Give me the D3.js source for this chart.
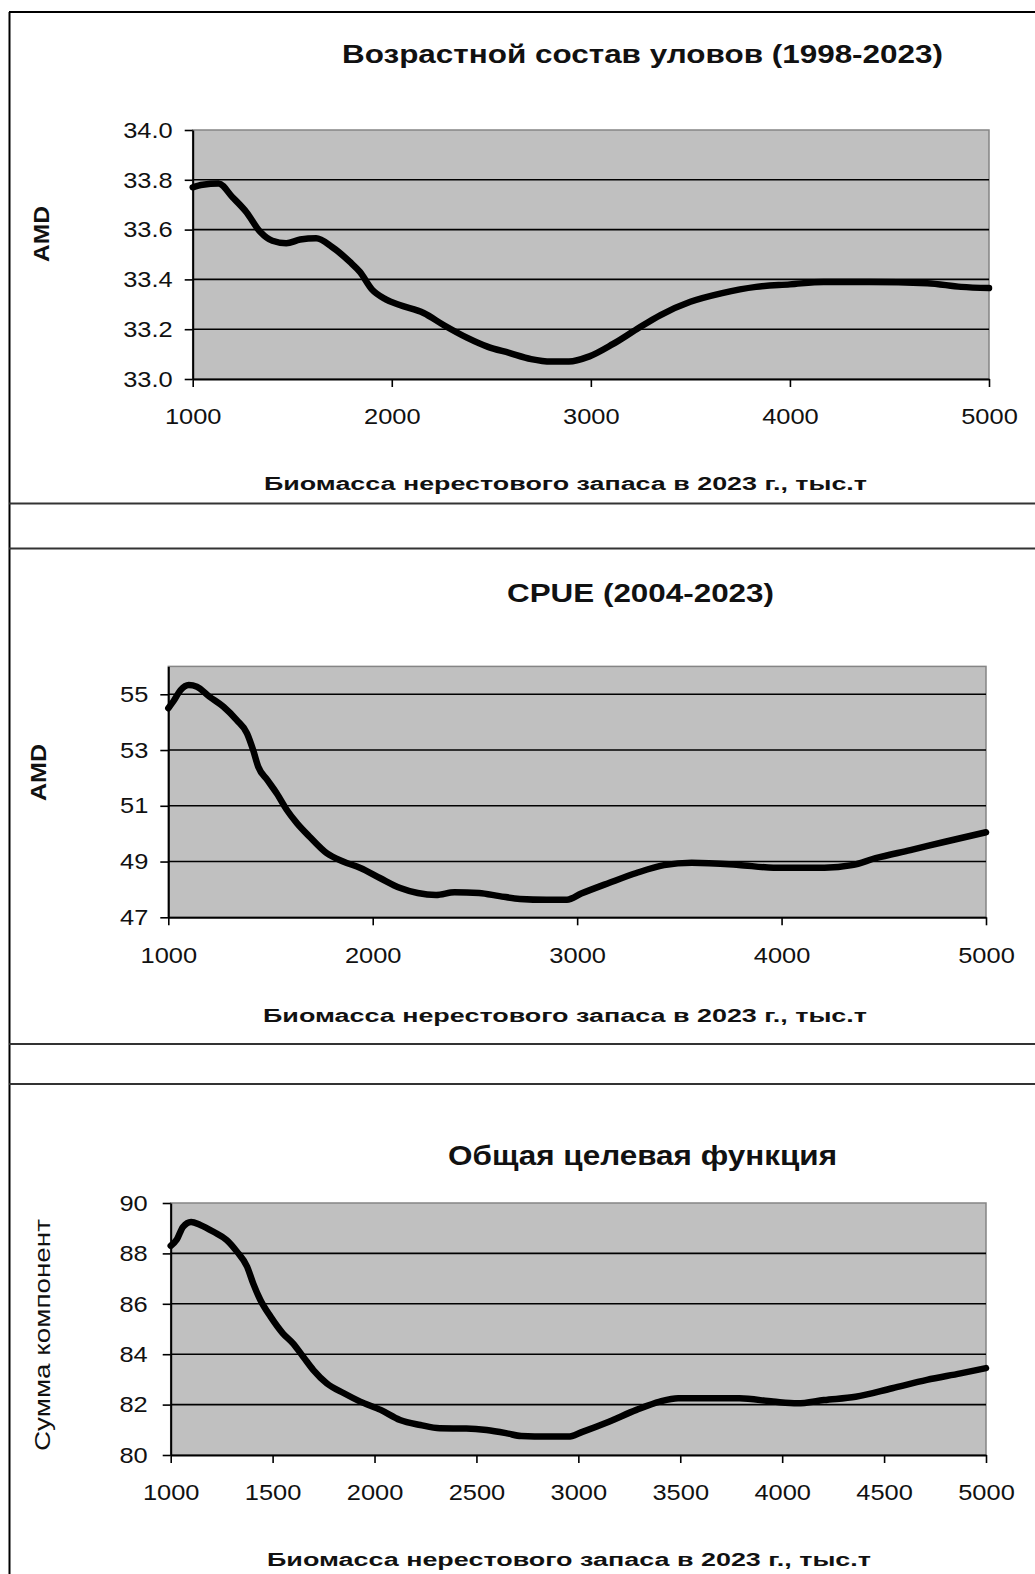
<!DOCTYPE html>
<html>
<head>
<meta charset="utf-8">
<script src="https://cdn.jsdelivr.net/npm/d3@7"></script>
<style>
  html, body { margin: 0; padding: 0; background: #fff; }
  svg { display: block; }
  text { font-family: "Liberation Sans", Arial, sans-serif; fill: #111; }
</style>
</head>
<body>
<svg id="chart" width="1035" height="1574"></svg>
<script>
// Spawning-stock biomass (thousand t) and response of each component
const biomassAge = [1000, 1050, 1130, 1200, 1270, 1340, 1400, 1470, 1540, 1620, 1700, 1790, 1840, 1900, 1970, 2040, 2160, 2260, 2380, 2480, 2590, 2700, 2800, 2890, 2990, 3110, 3230, 3350, 3500, 3660, 3830, 4000, 4170, 4400, 4690, 4860, 5000];
const amdAge = [33.77, 33.78, 33.785, 33.73, 33.67, 33.59, 33.555, 33.545, 33.56, 33.565, 33.53, 33.47, 33.43, 33.36, 33.32, 33.297, 33.265, 33.217, 33.165, 33.13, 33.105, 33.08, 33.07, 33.07, 33.09, 33.14, 33.2, 33.257, 33.31, 33.345, 33.37, 33.38, 33.39, 33.39, 33.385, 33.37, 33.365];

const biomassCpue = [1000, 1025, 1060, 1100, 1140, 1200, 1270, 1335, 1385, 1415, 1440, 1485, 1530, 1580, 1630, 1690, 1775, 1855, 1940, 2035, 2135, 2220, 2310, 2400, 2520, 2620, 2720, 2850, 2950, 3020, 3155, 3290, 3425, 3560, 3790, 3960, 4210, 4345, 4460, 4630, 4800, 5000];
const amdCpue = [54.5, 54.75, 55.15, 55.33, 55.27, 54.92, 54.55, 54.07, 53.6, 53.0, 52.4, 51.92, 51.45, 50.85, 50.37, 49.9, 49.3, 49.0, 48.77, 48.41, 48.05, 47.87, 47.8, 47.9, 47.87, 47.76, 47.66, 47.63, 47.63, 47.85, 48.23, 48.59, 48.87, 48.96, 48.88, 48.78, 48.78, 48.87, 49.12, 49.41, 49.71, 50.05];

const biomassTotal = [1000, 1030, 1060, 1100, 1145, 1210, 1275, 1325, 1375, 1405, 1440, 1490, 1550, 1600, 1650, 1700, 1765, 1850, 1930, 2030, 2125, 2225, 2320, 2450, 2550, 2650, 2720, 2850, 2950, 3020, 3150, 3285, 3400, 3490, 3790, 3955, 4075, 4205, 4360, 4540, 4710, 4875, 5000];
const sumTotal = [88.3, 88.55, 89.05, 89.25, 89.13, 88.86, 88.53, 88.07, 87.47, 86.8, 86.15, 85.49, 84.83, 84.43, 83.9, 83.37, 82.85, 82.45, 82.12, 81.79, 81.39, 81.19, 81.06, 81.05, 80.99, 80.86, 80.75, 80.73, 80.73, 80.92, 81.32, 81.79, 82.12, 82.25, 82.25, 82.12, 82.05, 82.18, 82.31, 82.65, 82.98, 83.24, 83.45];

// Axis ticks
const xTicksCoarse = [1000, 2000, 3000, 4000, 5000];
const xTicksFine = [1000, 1500, 2000, 2500, 3000, 3500, 4000, 4500, 5000];
const yTicksAge = [33.0, 33.2, 33.4, 33.6, 33.8, 34.0];
const yTicksCpue = [47, 49, 51, 53, 55];
const yTicksTotal = [80, 82, 84, 86, 88, 90];

// Texts
const titleAge = "Возрастной состав уловов (1998-2023)";
const titleCpue = "CPUE (2004-2023)";
const titleTotal = "Общая целевая функция";
const xTitle = "Биомасса нерестового запаса в  2023 г., тыс.т";
const yTitleAmd = "AMD";
const yTitleSum = "Сумма компонент";

const svg = d3.select("#chart");

// Outer frame (left and top edges) and panel separators
svg.append("line").attr("x1", 9.5).attr("x2", 9.5).attr("y1", 12).attr("y2", 1574)
  .attr("stroke", "#000").attr("stroke-width", 2);
svg.append("line").attr("x1", 9).attr("x2", 1035).attr("y1", 12).attr("y2", 12)
  .attr("stroke", "#000").attr("stroke-width", 2);
[503.5, 548.5, 1044, 1084].forEach(yy => {
  svg.append("line").attr("x1", 9).attr("x2", 1035).attr("y1", yy).attr("y2", yy)
    .attr("stroke", "#333").attr("stroke-width", 2);
});

function stretchedText(g, str, opts) {
  const t = g.append("text")
    .attr("font-size", opts.size)
    .attr("font-weight", opts.weight || "normal")
    .attr("textLength", opts.len)
    .attr("lengthAdjust", "spacingAndGlyphs")
    .text(str);
  if (opts.rotate) {
    t.attr("transform", `translate(${opts.x},${opts.y}) rotate(-90)`);
  } else {
    t.attr("x", opts.x).attr("y", opts.y);
  }
  return t;
}

// widen tick labels slightly, keeping their anchor point
function widenLabels(sel, factor) {
  sel.each(function () {
    const w = this.getComputedTextLength();
    d3.select(this).attr("textLength", w * factor).attr("lengthAdjust", "spacingAndGlyphs");
  });
}

function drawPanel(cfg) {
  const g = svg.append("g");
  const x = d3.scaleLinear().domain([1000, 5000]).range([cfg.left, cfg.right]);
  const y = d3.scaleLinear().domain(cfg.yDomain).range([cfg.bottom, cfg.top]);

  // plot area
  g.append("rect")
    .attr("x", cfg.left).attr("y", cfg.top)
    .attr("width", cfg.right - cfg.left).attr("height", cfg.bottom - cfg.top)
    .attr("fill", "#c0c0c0").attr("stroke", "#858585").attr("stroke-width", 1.5);

  // horizontal gridlines
  g.selectAll("line.grid")
    .data(cfg.yTicks.filter(v => v > cfg.yDomain[0] && v < cfg.yDomain[1]))
    .join("line")
    .attr("class", "grid")
    .attr("x1", cfg.left).attr("x2", cfg.right)
    .attr("y1", d => y(d)).attr("y2", d => y(d))
    .attr("stroke", "#000").attr("stroke-width", 1.6);

  // axes
  const yAxis = d3.axisLeft(y).tickValues(cfg.yTicks).tickSize(8).tickSizeOuter(0)
    .tickPadding(cfg.yPad).tickFormat(cfg.yFormat);
  const xAxis = d3.axisBottom(x).tickValues(cfg.xTicks).tickSize(8).tickSizeOuter(0)
    .tickPadding(cfg.xPad).tickFormat(d3.format("d"));

  const ga = g.append("g").attr("transform", `translate(${cfg.left},0)`).call(yAxis);
  const gb = g.append("g").attr("transform", `translate(0,${cfg.bottom})`).call(xAxis);
  [ga, gb].forEach(a => {
    a.select(".domain").attr("stroke", "#000").attr("stroke-width", 2);
    a.selectAll(".tick line").attr("stroke", "#000").attr("stroke-width", 1.6);
    a.selectAll(".tick text").attr("font-size", 22.5)
      .attr("font-family", "'Liberation Sans', Arial, sans-serif").attr("fill", "#111");
    widenLabels(a.selectAll(".tick text"), 1.13);
  });

  // response curve
  const line = d3.line()
    .x(d => x(d[0])).y(d => y(d[1]))
    .curve(d3.curveMonotoneX);
  g.append("path")
    .datum(cfg.xs.map((v, i) => [v, cfg.ys[i]]))
    .attr("d", line)
    .attr("fill", "none").attr("stroke", "#000")
    .attr("stroke-width", 6.5).attr("stroke-linejoin", "round").attr("stroke-linecap", "round");

  // titles
  stretchedText(g, cfg.title, cfg.titleOpts);
  stretchedText(g, xTitle, cfg.xTitleOpts);
  stretchedText(g, cfg.yTitle, cfg.yTitleOpts);
}

drawPanel({
  left: 192.7, right: 989, top: 130, bottom: 379,
  yDomain: [33.0, 34.0], yTicks: yTicksAge, yFormat: d3.format(".1f"), yPad: 12,
  xTicks: xTicksCoarse, xPad: 21,
  xs: biomassAge, ys: amdAge,
  title: titleAge,
  titleOpts: { x: 342, y: 63, size: 26, weight: "bold", len: 601 },
  xTitleOpts: { x: 264, y: 490, size: 18, weight: "bold", len: 603 },
  yTitle: yTitleAmd,
  yTitleOpts: { x: 49, y: 262, size: 22, weight: "bold", len: 56, rotate: true }
});

drawPanel({
  left: 168.3, right: 986, top: 666.4, bottom: 917.3,
  yDomain: [47, 56], yTicks: yTicksCpue, yFormat: d3.format("d"), yPad: 12,
  xTicks: xTicksCoarse, xPad: 22,
  xs: biomassCpue, ys: amdCpue,
  title: titleCpue,
  titleOpts: { x: 507, y: 602, size: 26, weight: "bold", len: 267 },
  xTitleOpts: { x: 263, y: 1022, size: 18, weight: "bold", len: 604 },
  yTitle: yTitleAmd,
  yTitleOpts: { x: 46, y: 801, size: 22, weight: "bold", len: 57, rotate: true }
});

drawPanel({
  left: 170.7, right: 986, top: 1203, bottom: 1455,
  yDomain: [80, 90], yTicks: yTicksTotal, yFormat: d3.format("d"), yPad: 15,
  xTicks: xTicksFine, xPad: 21,
  xs: biomassTotal, ys: sumTotal,
  title: titleTotal,
  titleOpts: { x: 448, y: 1165, size: 27, weight: "bold", len: 389 },
  xTitleOpts: { x: 267, y: 1566, size: 18, weight: "bold", len: 604 },
  yTitle: yTitleSum,
  yTitleOpts: { x: 50, y: 1451, size: 22, weight: "normal", len: 232, rotate: true }
});
</script>
</body>
</html>
